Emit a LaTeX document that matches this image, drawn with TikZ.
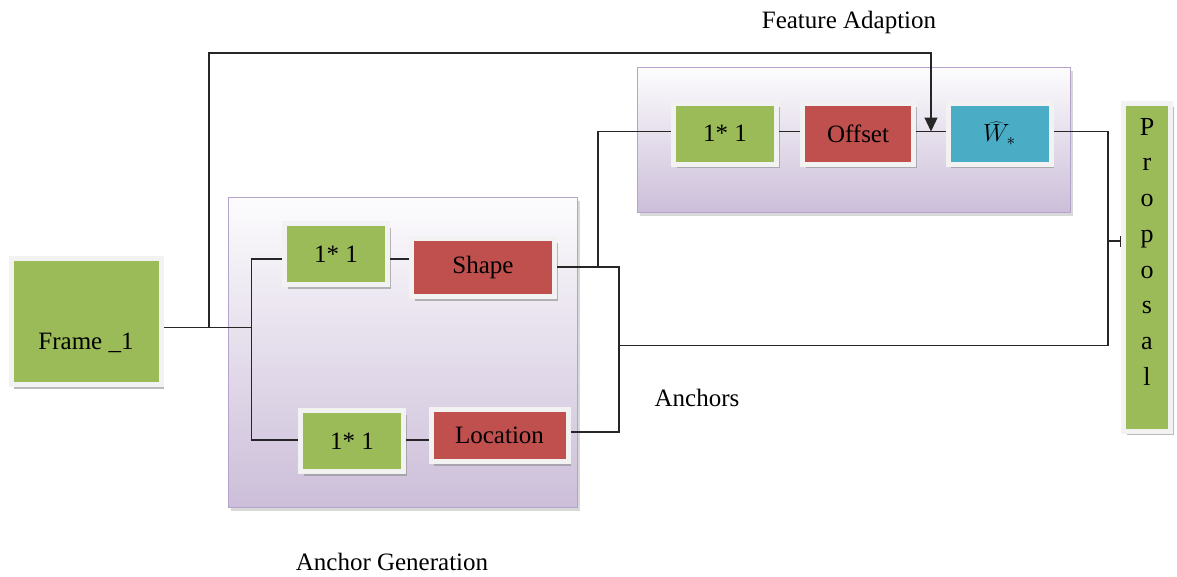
\documentclass[tikz,border=0pt]{standalone}
\usepackage{fontspec}
\setmainfont{Liberation Serif}
\usetikzlibrary{shadows,arrows.meta,calc}
\definecolor{cgreen}{HTML}{9BBB59}
\definecolor{cred}{HTML}{C0504D}
\definecolor{cblue}{HTML}{4BACC6}
\definecolor{cframe}{HTML}{F2F2F2}
\definecolor{ptop}{HTML}{FCFCFD}
\definecolor{pbot}{HTML}{CCBED9}
\definecolor{pborder}{HTML}{B4A3CB}
\begin{document}
\begin{tikzpicture}[x=1pt,y=-1pt,
  font=\fontsize{25}{30}\selectfont,
  blk/.style={draw=cframe, line width=5pt, inner sep=0pt,
    drop shadow={shadow xshift=3pt, shadow yshift=-4pt, fill=black!45, opacity=0.6}},
  grp/.style={draw=pborder, line width=1.3pt, top color=ptop, bottom color=pbot, inner sep=0pt,
    drop shadow={shadow xshift=2pt, shadow yshift=-3pt, fill=black!30, opacity=0.5}},
  ln/.style={draw=black!85, line width=1.3pt},
  lbl/.style={inner sep=0pt}]
\useasboundingbox (0,0) rectangle (1177,576);

% groups
\node[grp, minimum width=349, minimum height=310] (ag) at (403,352.5) {};
\node[grp, minimum width=433, minimum height=145] (fa) at (854,140) {};

% blocks
\node[blk, fill=cgreen, minimum width=150, minimum height=126] (frame) at (86,321.5) {\raisebox{-28pt}[0pt][0pt]{Frame \_1}};
\node[blk, fill=cgreen, minimum width=103, minimum height=61] (g1) at (336,254) {1* 1};
\node[blk, fill=cred, minimum width=143, minimum height=58] (shape) at (483,267.5) {Shape};
\node[blk, fill=cgreen, minimum width=103, minimum height=61] (g2) at (352,441) {1* 1};
\node[blk, fill=cred, minimum width=137, minimum height=52] (loc) at (499.5,435.5) {Location};
\node[blk, fill=cgreen, minimum width=103, minimum height=61] (g3) at (725,133.5) {1* 1};
\node[blk, fill=cred, minimum width=111, minimum height=61] (offset) at (858,133.5) {Offset};
\node[blk, fill=cblue, minimum width=103, minimum height=61, font=\fontsize{27}{32}\selectfont] (w) at (999.5,133.5) {$\widehat{W\vphantom{I}}_{\!*}$};
\node[blk, fill=cgreen, minimum width=47, minimum height=328, align=center,
      font=\fontsize{26}{35.7}\selectfont] (prop) at (1147,267) {P\\r\\o\\p\\o\\s\\a\\l\\[-5pt]\mbox{}};

% labels
\node[lbl] (tfa) at (849,22) {Feature Adaption};
\node[lbl] (tan) at (697,398) {Anchors};
\node[lbl] (tag) at (392,562) {Anchor Generation};

% junction coordinates
\coordinate (j0) at (209,327.5);
\coordinate (j1) at (251.5,327.5);
\coordinate (ca) at (251.5,259);
\coordinate (cb) at (251.5,440);
\coordinate (cc) at (619,267);
\coordinate (cd) at (619,432);
\coordinate (ce) at (598,267);
\coordinate (cf) at (598,131.5);
\coordinate (cg) at (619,345.5);
\coordinate (ch) at (1108,345.5);
\coordinate (ci) at (1108,131.5);
\coordinate (cj) at (1108,241);
\coordinate (ck) at (931,53);
\coordinate (cl) at (931,131.5);

% connectors
\draw[ln] (frame.east |- j1) -- (j1);
\draw[ln] (g1.west |- ca) -- (ca) -- (cb) -- (g2.west |- cb);
\draw[ln] (g1.east |- ca) -- (shape.west |- ca);
\draw[ln] (g2.east |- cb) -- (loc.west |- cb);
\draw[ln] (shape.east |- cc) -- (cc) -- (cd) -- (loc.east |- cd);
\draw[ln] (ce) -- (cf) -- (g3.west |- cf);
\draw[ln] (g3.east |- cf) -- (offset.west |- cf);
\draw[ln] (offset.east |- cf) -- (w.west |- cf);
\draw[ln] (cg) -- (ch) -- (ci) -- (w.east |- ci);
\draw[ln, -{Bar[width=11pt]}] (cj) -- (prop.west |- cj);
\draw[ln, -{Triangle[width=13pt,length=14pt]}] (j0) |- (ck) -- (cl);
\end{tikzpicture}
\end{document}
